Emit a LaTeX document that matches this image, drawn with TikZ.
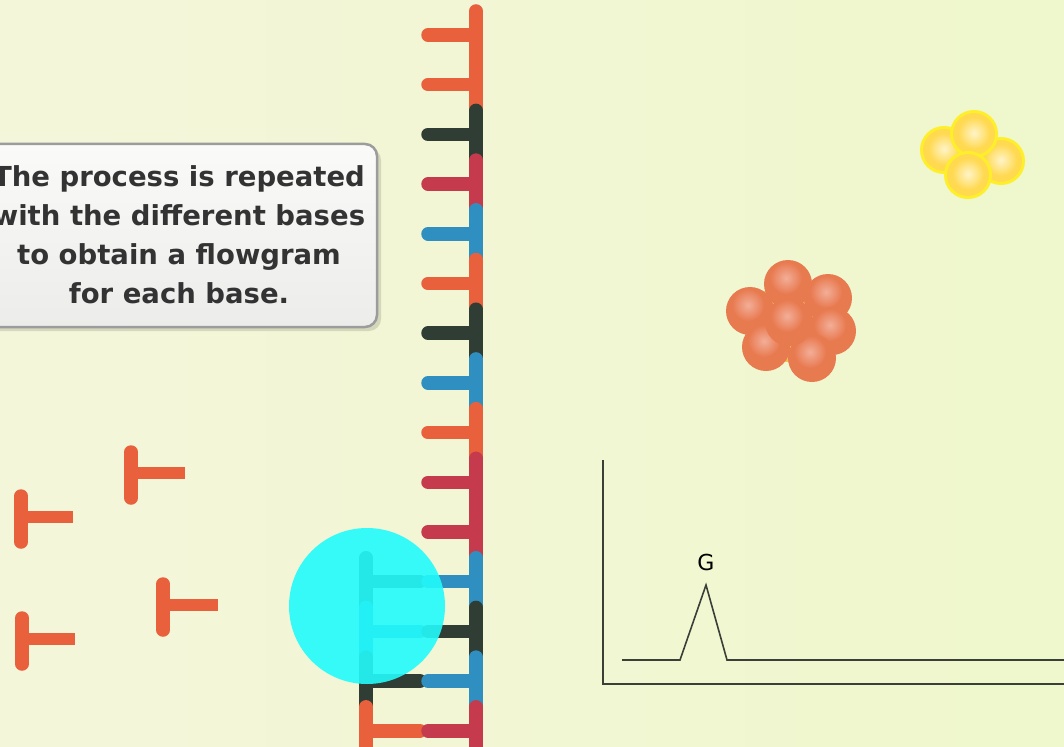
\documentclass[tikz,border=0pt]{standalone}
\usepackage{fontspec}
\setmainfont{DejaVu Sans}
\definecolor{bgL}{HTML}{F4F6DA}
\definecolor{bgR}{HTML}{EFF7CC}
\definecolor{nO}{HTML}{E8603C}
\definecolor{nD}{HTML}{2F3D34}
\definecolor{nR}{HTML}{C53A4C}
\definecolor{nB}{HTML}{2E8FC0}
\definecolor{probe}{HTML}{22FBFB}
\definecolor{boxline}{HTML}{9C9C9C}
\definecolor{boxtop}{HTML}{FAFAF8}
\definecolor{boxbot}{HTML}{ECECEA}
\definecolor{ink}{HTML}{333333}
\definecolor{plot}{HTML}{3A3F38}
\definecolor{ballO}{HTML}{E87A50}
\definecolor{ballOhi}{HTML}{F3AE98}
\definecolor{glowO}{HTML}{F0B030}
\definecolor{ballY}{HTML}{FFD950}
\definecolor{ballYhi}{HTML}{FFF4C8}
\definecolor{rimY}{HTML}{FFEE2A}
\begin{document}
\begin{tikzpicture}[x=1pt,y=-1pt,
  bar/.style={line width=13.5pt,line cap=round},
  axisline/.style={draw=plot,line width=1.6pt},
  trace/.style={draw=plot,line width=1.6pt,line join=miter},
  orangeball/.style={fill=ballO},
  yellowball/.style={fill=ballY,draw=rimY,line width=3pt}]
\useasboundingbox (0,0) rectangle (1064,746);
\clip (0,0) rectangle (1064,746);
% background
\shade[left color=bgL,right color=bgR] (0,0) rectangle (1064,746);

% ---- DNA template strand (right backbone and rungs)
\foreach \i/\c in {1/nO,2/nO,3/nD,4/nR,5/nB,6/nO,7/nD,8/nB,9/nO,10/nR,11/nR,12/nB,13/nD,14/nB,15/nR}{
  \pgfmathsetmacro\yy{35+49.7*(\i-1)}
  \draw[bar,\c] (476,\yy-24) -- (476,\yy+24);
}
% ---- growing complementary strand (left backbone)
\foreach \i/\c in {12/nD,13/nB,14/nD,15/nO}{
  \pgfmathsetmacro\yy{35+49.7*(\i-1)}
  \draw[bar,\c] (366,\yy-24) -- (366,\yy+24);
  \draw[bar,\c] (366,\yy) -- (420,\yy);
}
\foreach \i/\c in {1/nO,2/nO,3/nD,4/nR,5/nB,6/nO,7/nD,8/nB,9/nO,10/nR,11/nR,12/nB,13/nD,14/nB,15/nR}{
  \pgfmathsetmacro\yy{35+49.7*(\i-1)}
  \draw[bar,\c] (428,\yy) -- (476,\yy);
}

% ---- polymerase complex
\fill[probe,opacity=0.9] (367,606) circle (78);

% ---- free nucleotides
\foreach \vx/\vy/\len in {131/475/54, 21/519/52, 163/607/55, 22/641/53}{
  \draw[bar,nO] (\vx,\vy-23) -- (\vx,\vy+23);
  \draw[bar,nO,line width=12.5pt,line cap=butt] (\vx,\vy-2) -- (\vx+\len,\vy-2);
}

% ---- caption box
\fill[black,opacity=0.12,rounded corners=12pt] (-30,148) rectangle (381,331);
\shade[top color=boxtop,bottom color=boxbot,rounded corners=12pt] (-30,144) rectangle (377,327);
\draw[boxline,line width=2.5pt,rounded corners=12pt] (-30,144) rectangle (377,327);
\node[align=center,text=ink,font=\fontsize{27.5}{39}\selectfont\bfseries,inner sep=0pt]
  (caption) at (179,235) {The process is repeated\\with the different bases\\to obtain a flowgram\\for each base.};

% ---- orange bead cluster
\fill[glowO,opacity=0.8] (790,322) circle (40);
\foreach \bx/\by in {788/284, 828/298, 750/311, 832/331, 766/347, 812/358, 789/322}{
  \fill[orangeball] (\bx,\by) circle (24);
  \shade[inner color=ballOhi,outer color=ballO] (\bx-2,\by-6) circle (16);
}

% ---- yellow bead cluster
\foreach \bx/\by in {944/150, 1001/161, 974/134, 968/175}{
  \fill[yellowball] (\bx,\by) circle (22.5);
  \shade[inner color=ballYhi,outer color=ballY] (\bx,\by-1) circle (16);
}

% ---- flowgram
\coordinate (ytop) at (603,460);
\coordinate (origin) at (603,684);
\coordinate (xend) at (1070,684);
\draw[axisline] (ytop) -- (origin) -- (xend);
\coordinate (t0) at (622,660);
\coordinate (t1) at (680,660);
\coordinate (tpeak) at (706,585);
\coordinate (t2) at (727,660);
\coordinate (t3) at (1070,660);
\draw[trace] (t0) -- (t1) -- (tpeak) -- (t2) -- (t3);
\node[font=\fontsize{22}{24}\selectfont,text=black,inner sep=0pt] (peaklabel) at (706,562) {G};
\end{tikzpicture}
\end{document}
